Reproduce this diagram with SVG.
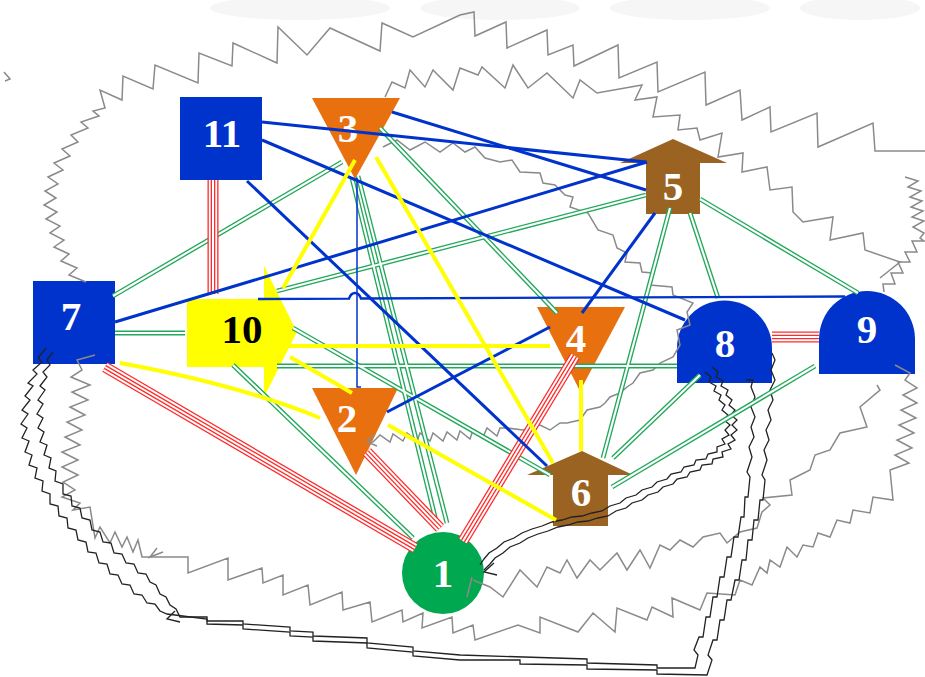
<svg xmlns="http://www.w3.org/2000/svg" width="925" height="677" viewBox="0 0 925 677">
<style>
.bg{fill:#fff}
.wm{fill:#f6f6f6}
.gz{fill:none;stroke:#8a8a8a;stroke-width:1.5;stroke-linejoin:miter}
.bk{fill:none;stroke:#222;stroke-width:1.3}
.gO{fill:none;stroke:#22a85a;stroke-width:4.8}
.gI{fill:none;stroke:#fff;stroke-width:2.1}
.r1{fill:none;stroke:#ff2a2a;stroke-width:11}
.r2{fill:none;stroke:#fff;stroke-width:8.4}
.r3{fill:none;stroke:#ff2a2a;stroke-width:4.6}
.r4{fill:none;stroke:#fff;stroke-width:2}
.bl{fill:none;stroke:#0033cc;stroke-width:3}
.blt{fill:none;stroke:#0033cc;stroke-width:1.5}
.ye{fill:none;stroke:#ffff00;stroke-width:4}
.sq{fill:#0033cc}
.tri{fill:#e8700f}
.hs{fill:#9b6322}
.lb{font-family:"Liberation Serif","Times New Roman",serif;font-weight:bold;font-size:41px;fill:#fff;text-anchor:middle}
</style>
<rect class="bg" x="0" y="0" width="925" height="677"/>
<g id="watermark">
<ellipse class="wm" cx="300" cy="8" rx="90" ry="12"/>
<ellipse class="wm" cx="500" cy="8" rx="80" ry="12"/>
<ellipse class="wm" cx="690" cy="8" rx="80" ry="12"/>
<ellipse class="wm" cx="860" cy="8" rx="60" ry="12"/>
</g>
<g id="nodes">
<g id="n11"><rect class="sq" x="180" y="97" width="82" height="83"/><text class="lb" x="222" y="147">11</text></g>
<g id="n3"><polygon class="tri" points="312,98 400,98 355,179"/><text class="lb" x="348" y="142">3</text></g>
<g id="n5"><polygon class="hs" points="620,163 673,139 727,163 700,163 700,214 646,214 646,163"/><text class="lb" x="673" y="200">5</text></g>
<g id="n7"><rect class="sq" x="33" y="281" width="82" height="83"/><text class="lb" x="71" y="330">7</text></g>
<g id="n10"><polygon points="187,299 264,299 264,266 297,332 264,397 264,367 187,367" fill="#ffff00"/><text class="lb" x="242" y="343" style="fill:#000">10</text></g>
<g id="n2"><polygon class="tri" points="312,388 398,388 356,475"/><text class="lb" x="347" y="432">2</text></g>
<g id="n4"><polygon class="tri" points="537,307 625,307 580,391"/><text class="lb" x="576" y="352">4</text></g>
<g id="n8"><path class="sq" d="M677,383 L677,348 A47.5,47.5 0 0 1 772,348 L772,383 Z"/><text class="lb" x="725" y="357">8</text></g>
<g id="n9"><path class="sq" d="M819,374 L819,339 A48,48 0 0 1 915,339 L915,374 Z"/><text class="lb" x="867" y="343">9</text></g>
<g id="n6"><polygon class="hs" points="527,475 582,451 633,475 608,475 608,526 553,526 553,475"/><text class="lb" x="581" y="506">6</text></g>
<g id="n1"><circle cx="443" cy="573" r="41" fill="#00a84f"/><text class="lb" x="443" y="587">1</text></g>
</g>
<g id="connectors">
<g id="gray">
<path class="gz" d="M4,72 L10,79 L5,81"/>
<polyline class="gz" points="86,282 69,275 77,268 61,261 69,254 54,247 64,240 50,233 60,226 46,219 57,212 44,205 56,198 45,191 58,184 48,177 63,170 54,163 70,156 62,149 78,142 71,135 88,128 81,122 99,116 93,111 105,108 100,90 122,100 123,76 153,89 155,65 198,83 199,53 232,66 233,43 277,63 278,27 307,55 330,28 380,51 382,23 413,37 460,15 474,12 475,36 506,22 507,48 547,30 548,55 573,45 574,66 618,45 619,78 657,62 658,92 705,72 706,105 740,90 742,120 770,107 771,132 817,113 818,147 873,123 875,151 930,151"/>
<polyline class="gz" points="905,177 918,181 908,187 921,191 910,197 922,201 911,207 923,211 912,217 924,221 913,227 924,233 920,238 924,241 912,241 917,252 905,252 910,262 898,262 903,273 891,273 895,284 883,284 884,292"/>
<polyline class="gz" points="385,97 392,82 405,88 410,70 425,87 433,70 453,90 460,68 478,75 482,67 505,88 513,65 528,88 547,73 573,98 580,80 597,93 642,85 635,100 657,97 653,117 680,115 678,130 697,128 700,140 722,133 718,157 743,153 742,172 767,167 770,190 792,187 793,212 803,222 833,217 830,240 863,233 865,250 900,262 880,278"/>
<polyline class="gz" points="383,147 397,140 410,150 425,142 440,152 453,143 465,152 475,147 485,158 500,162 512,160 520,172 540,173 543,183 555,185 565,195 573,197 570,207 588,213 598,230 613,235 617,248 627,253 625,262 640,263 642,272 652,273 650,285 672,287 673,295 693,303 687,312 690,325 677,330 680,345 673,357 660,363 653,370 640,373 633,383 627,387 620,393 610,397 605,403 600,407 587,410 580,420 567,423 560,423 550,430 540,425 523,430 507,428 500,428 497,436 487,428 483,437 473,430 470,439 460,431 457,440 447,432 443,441 433,433 430,441 420,433 417,441 407,433 403,441 393,434 390,442 380,435 373,442 367,442"/>
<path class="gz" d="M375,434 L367,442 L377,446"/>
<polyline class="gz" points="895,365 910,373 905,380 917,388 903,395 917,403 901,410 916,418 899,425 914,433 897,440 912,448 895,455 909,463 890,470 893,500 873,497 870,513 853,510 850,523 837,520 830,537 818,533 813,547 803,545 797,557 787,547 780,567 770,560 767,573 760,567 752,585 740,580 735,595 707,593 700,610 672,598 673,617 652,607 647,620 617,608 615,632 593,613 578,632 540,617 540,633 518,625 475,640 473,625 453,633 452,617 422,628 423,613 403,622 402,610 372,622 370,602 343,610 342,592 310,605 308,585 283,595 283,575 263,583 262,568 228,580 228,558 188,573 188,557 150,557 142,557 138,540 133,552 127,537 122,547 115,532 110,543 100,527 95,538 90,507 73,510 80,503 62,497 75,490 63,482 78,475 62,467 78,460 62,452 80,445 65,437 82,430 67,422 85,415 70,407 88,400 72,392 90,385 71,377 82,370 77,360 95,355"/>
<path class="gz" d="M157,548 L150,557 L163,552"/>
<path class="gz" d="M467,597 L472,577"/>
<polyline class="gz" points="473,580 490,587 503,597 520,570 537,587 547,567 560,573 567,560 577,578 590,560 600,570 617,553 627,570 640,550 650,568 660,545 670,550 680,540 693,547 703,537 720,533 727,543 740,532 757,528 762,512 770,505 763,498 792,495 790,480 810,470 815,455 830,450 840,433 867,427 860,407 880,390 877,385"/>
</g>
<g id="black">
<polyline class="bk" points="46,348 38,358 42,362 33,370 37,374 28,383 33,386 25,396 30,400 22,410 28,414 21,424 27,428 22,438 29,441 25,452 32,455 29,465 37,468 35,478 43,481 42,491 50,494 50,504 58,506 59,516 67,518 68,528 76,530 78,540 86,542 88,552 96,553 99,563 107,564 110,574 118,575 122,584 130,585 134,594 142,595 147,603 155,604 160,611 167,614 175,615 207,619 207,624 243,625 243,629 290,632 290,636 313,637 313,641 367,643 367,648 413,652 413,656 460,660 520,660 520,664 587,665 587,669 657,670 657,674 707,675 712,660 708,655 713,640 717,640 720,620 724,620 727,600 731,600 735,580 739,580 742,560 746,560 748,540 752,540 754,520 758,520 760,500 763,500 765,480 762,475 767,460 764,450 769,440 766,430 771,420 768,410 773,400 770,390 775,380 771,370 775,360 772,353"/>
<polyline class="bk" points="53,352 47,360 50,365 43,372 47,377 40,386 45,390 38,400 43,404 37,414 43,418 38,428 44,432 40,442 47,445 44,455 51,458 49,468 56,471 55,481 63,484 63,494 71,496 72,506 80,508 82,518 90,520 92,530 100,532 103,542 111,543 114,553 122,554 126,563 134,564 138,573 146,574 150,582 156,585 160,594 166,597 170,605 176,609 180,617 207,617 207,621 243,621 243,624 290,627 290,631 313,632 313,636 367,638 367,643 413,647 413,651 460,655 587,659 587,663 657,665 657,668 695,668 698,655 694,650 699,637 703,637 706,617 710,617 713,597 717,597 720,577 724,577 727,557 731,557 734,537 738,537 741,517 744,517 745,497 748,497 750,477 747,472 752,457 749,447 754,437 751,427 755,417 751,407 755,397 751,387 753,380 746,380"/>
<path class="bk" d="M175,611 L167,619 L180,622"/>
<polyline class="bk" points="712,367 718,372 716,377 723,381 721,386 728,390 726,395 732,400 729,405 735,410 731,415 737,420 732,425 737,430 731,435 735,440 728,444 731,449 722,452 723,457 713,459 712,464 702,465 700,470 690,472 687,477 677,479 673,484 663,487 658,492 648,495 642,500 632,503 626,508 616,511 608,516 598,518 588,521 578,522 568,525 558,527 548,531 538,534 528,538 520,543 510,547 503,553 495,558 490,564 484,570"/>
<polyline class="bk" points="705,372 711,377 709,382 716,386 714,391 721,395 719,400 725,405 722,410 728,415 724,420 730,425 725,430 729,435 722,439 725,444 717,447 717,452 708,454 706,459 696,460 694,465 684,467 681,472 671,474 667,479 657,482 652,487 642,490 636,495 626,498 620,503 610,506 602,511 592,513 582,516 572,517 562,520 552,522 542,526 532,529 522,533 514,538 504,542 497,548 489,553 484,559 480,565"/>
<path class="bk" d="M494,563 L484,572 L497,575"/>
</g>
<g id="green" class="gO">
<path d="M342,162 L113,296"/>
<path d="M352,178 L437,525"/>
<path d="M358,176 L447,523"/>
<path d="M380,128 L557,313"/>
<path d="M646,195 L277,291"/>
<path d="M670,208 L603,458"/>
<path d="M690,213 L718,298"/>
<path d="M700,199 L858,293"/>
<path d="M277,366 L677,366"/>
<path d="M115,333 L185,333"/>
<path d="M293,328 L550,475"/>
<path d="M233,365 L413,538"/>
<path d="M613,458 L700,375"/>
<path d="M612,487 L815,366"/>
</g>
<g class="gI">
<path d="M342,162 L113,296"/>
<path d="M352,178 L437,525"/>
<path d="M358,176 L447,523"/>
<path d="M380,128 L557,313"/>
<path d="M646,195 L277,291"/>
<path d="M670,208 L603,458"/>
<path d="M690,213 L718,298"/>
<path d="M700,199 L858,293"/>
<path d="M277,366 L677,366"/>
<path d="M115,333 L185,333"/>
<path d="M293,328 L550,475"/>
<path d="M233,365 L413,538"/>
<path d="M613,458 L700,375"/>
<path d="M612,487 L815,366"/>
</g>
<g id="red" class="r1">
<path d="M213,180 L213,294"/><path d="M105,367 L415,548"/><path d="M367,452 L440,528"/><path d="M575,356 L463,541"/><path d="M772,337 L819,337"/>
</g>
<g class="r2">
<path d="M213,180 L213,294"/><path d="M105,367 L415,548"/><path d="M367,452 L440,528"/><path d="M575,356 L463,541"/><path d="M772,337 L819,337"/>
</g>
<g class="r3">
<path d="M213,180 L213,294"/><path d="M105,367 L415,548"/><path d="M367,452 L440,528"/><path d="M575,356 L463,541"/><path d="M772,337 L819,337"/>
</g>
<g class="r4">
<path d="M213,180 L213,294"/><path d="M105,367 L415,548"/><path d="M367,452 L440,528"/><path d="M575,356 L463,541"/><path d="M772,337 L819,337"/>
</g>
<g id="blue" class="bl">
<path d="M262,122 L646,162"/>
<path d="M262,140 L685,320"/>
<path d="M392,112 L646,190"/>
<path d="M115,322 L647,162"/>
<path d="M247,181 L547,466"/>
<path d="M582,313 L655,213"/>
<path d="M387,412 L550,327"/>
<path d="M258,299 L349,298.6 Q351,293 355,293 Q359,293 361,298.5 L845,296.5" style="stroke-width:2.4"/>
</g>
<path class="blt" d="M357,178 L357,387 L361,387"/>
<g id="yellow" class="ye">
<path d="M355,160 L283,288"/>
<path d="M376,157 L553,463"/>
<path d="M283,346 L550,346"/>
<path d="M290,357 L352,393"/>
<path d="M120,363 Q240,385 320,418"/>
<path d="M388,425 L556,520"/>
<path d="M581,380 L581,451"/>
</g>
</g>
</svg>
